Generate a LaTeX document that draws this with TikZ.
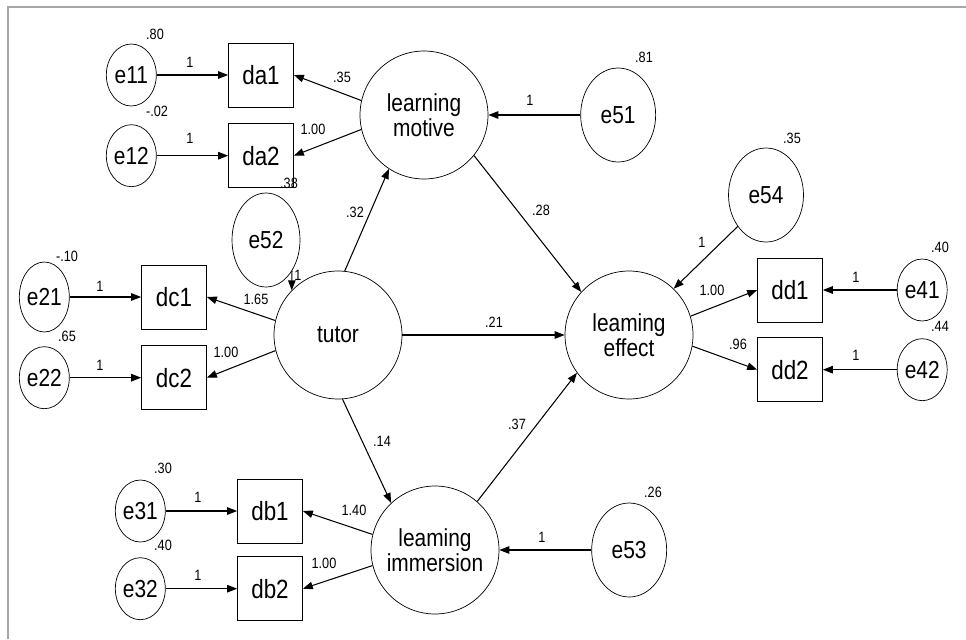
\documentclass[tikz,border=0pt]{standalone}
\usepackage{fontspec}
\setmainfont{Liberation Sans}[FakeStretch=0.85]
\usetikzlibrary{arrows.meta, positioning, shapes.geometric}

\begin{document}
\begin{tikzpicture}[
  x=0.02cm, y=-0.02cm,
  latent/.style={circle, draw, minimum size=2.56cm, inner sep=0pt,
                 align=center, font=\fontsize{14}{14.5}\selectfont},
  obs/.style={rectangle, draw, minimum width=1.3cm, minimum height=1.28cm,
              inner sep=0pt, font=\fontsize{15}{16}\selectfont},
  err/.style={ellipse, draw, minimum width=1cm, minimum height=1.24cm,
              inner sep=0pt, font=\fontsize{14}{15}\selectfont},
  errbig/.style={err, minimum width=1.5cm, minimum height=1.88cm},
  link/.style={-{Triangle[length=0.2cm, width=0.15cm]}, line width=0.6pt},
  lbl/.style={font=\fontsize{8.5}{10}\selectfont, inner sep=0pt},
  node distance=1.43cm
]
  \useasboundingbox (0,0) rectangle (966,639);
  \draw[gray!70, line width=0.6pt] (8,639) -- (8,7) -- (966,7);

  % latent variables
  \node[latent] (lm) at (424,115) {learning\\motive};
  \node[latent] (tutor) at (338,335) {tutor};
  \node[latent] (le) at (629,335) {leaming\\effect};
  \node[latent] (li) at (435,550) {leaming\\immersion};

  % indicators
  \node[obs] (da1) at (261,75) {da1};
  \node[obs, below=0.32cm of da1] (da2) {da2};
  \node[obs] (dc1) at (174,297) {dc1};
  \node[obs, below=0.32cm of dc1] (dc2) {dc2};
  \node[obs] (db1) at (270,511) {db1};
  \node[obs, below=0.26cm of db1] (db2) {db2};
  \node[obs] (dd1) at (790,290) {dd1};
  \node[obs, below=0.3cm of dd1] (dd2) {dd2};

  % error terms
  \node[err, left=of da1] (e11) {e11};
  \node[err, left=of da2] (e12) {e12};
  \node[err, left=of dc1, minimum height=1.4cm] (e21) {e21};
  \node[err, left=of dc2] (e22) {e22};
  \node[err, left=of db1] (e31) {e31};
  \node[err, left=of db2] (e32) {e32};
  \node[err, right=1.48cm of dd1] (e41) {e41};
  \node[err, right=1.48cm of dd2] (e42) {e42};
  \node[errbig, right=1.84cm of lm] (e51) {e51};
  \node[errbig, minimum width=1.36cm] (e52) at (266,240) {e52};
  \node[errbig, right=1.84cm of li] (e53) {e53};
  \node[errbig] (e54) at (766,195) {e54};

  \draw[link] (e11) -- (da1);
  \draw[link] (e12) -- (da2);
  \draw[link] (e21) -- (dc1);
  \draw[link] (e22) -- (dc2);
  \draw[link] (e31) -- (db1);
  \draw[link] (e32) -- (db2);
  \draw[link] (e41) -- (dd1);
  \draw[link] (e42) -- (dd2);
  \draw[link] (e51) -- (lm);
  \draw[link] (e53) -- (li);
  \draw[link] (e52.-50) -- (tutor.136);
  \draw[link] (e54.228) -- (le.46);

  \draw[link] (lm.167) -- (da1.east);
  \draw[link] (lm.193) -- (da2.east);
  \draw[link] (tutor.167) -- (dc1.east);
  \draw[link] (tutor.194) -- (dc2.east);
  \draw[link] (li.166) -- (db1.east);
  \draw[link] (li.194) -- (db2.east);
  \draw[link] (le.17) -- (dd1.west);
  \draw[link] (le.-10) -- (dd2.west);

  \draw[link] (tutor.84) -- (lm.237);
  \draw[link] (tutor.-86) -- (li.133);
  \draw[link] (tutor) -- (le);
  \draw[link] (lm.-39) -- (le.138);
  \draw[link] (li.49) -- (le.216);

  % estimates
  \foreach \px/\py/\txt [count=\i] in {155/34/.80, 190/62/1, 157/111/-.02,
      190/138/1, 342/77/.35, 313/129/1.00, 289/183/.38, 355/212/.32,
      298/275/1, 256/299/1.65, 67/256/-.10, 100/286/1, 67/336/.65,
      100/365/1, 226/352/1.00, 644/57/.81, 530/100/1, 792/138/.35,
      541/210/.28, 702/242/1, 712/290/1.00, 738/344/.96, 494/322/.21,
      940/247/.40, 856/277/1, 940/326/.44, 856/355/1, 382/441/.14,
      517/424/.37, 163/468/.30, 198/497/1, 163/545/.40, 198/575/1,
      354/510/1.40, 324/563/1.00, 653/492/.26, 542/537/1}
    \node[lbl] (val\i) at (\px,\py) {\txt};
\end{tikzpicture}
\end{document}
